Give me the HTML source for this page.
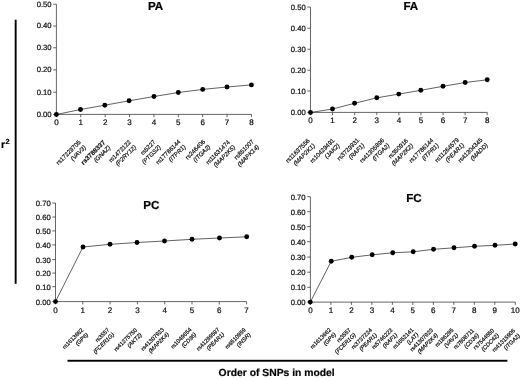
<!DOCTYPE html>
<html><head><meta charset="utf-8"><title>r2 by order of SNPs in model</title>
<style>html,body{margin:0;padding:0;background:#fff;}body{width:520px;height:379px;overflow:hidden;}svg{display:block;filter:grayscale(1);}text{font-family:"Liberation Sans", sans-serif;fill:#111;text-rendering:geometricPrecision;stroke:#111;stroke-width:0.22px;}.yt{font-size:7.7px;text-anchor:end;}.xt{font-size:8.0px;text-anchor:middle;}.lb{font-size:6.25px;text-anchor:end;stroke-width:0.2px;}.ti{font-size:11.6px;font-weight:bold;text-anchor:middle;fill:#000;}.it{font-style:italic;}.b{font-weight:bold;}</style></head><body>
<svg width="520" height="379" viewBox="0 0 520 379">
<rect x="0" y="0" width="520" height="379" fill="#ffffff"/>
<rect x="14.7" y="19.7" width="1.9" height="264.1" fill="#000"/>
<rect x="67.5" y="359.8" width="439.9" height="1.9" fill="#000"/>
<text x="1.0" y="147.9" style="font-size:10.6px;font-weight:bold;fill:#000;">r<tspan dx="0.3" dy="-3.9" style="font-size:7.4px;">2</tspan></text>
<text x="218.6" y="376.2" style="font-size:10.35px;font-weight:bold;fill:#000;">Order of SNPs in model</text>
<g>
<path d="M56.40 4.20 V114.40 H251.44" fill="none" stroke="#333" stroke-width="0.75"/>
<path d="M56.40 114.40h-3.2M56.40 92.20h-3.2M56.40 69.90h-3.2M56.40 47.80h-3.2M56.40 26.00h-3.2M56.40 4.20h-3.2M56.40 114.40v2.8M80.78 114.40v2.8M105.16 114.40v2.8M129.54 114.40v2.8M153.92 114.40v2.8M178.30 114.40v2.8M202.68 114.40v2.8M227.06 114.40v2.8M251.44 114.40v2.8" fill="none" stroke="#333" stroke-width="0.75"/>
<text class="yt" x="51.60" y="116.85">0.00</text>
<text class="yt" x="51.60" y="94.65">0.10</text>
<text class="yt" x="51.60" y="72.35">0.20</text>
<text class="yt" x="51.60" y="50.25">0.30</text>
<text class="yt" x="51.60" y="28.45">0.40</text>
<text class="yt" x="51.60" y="6.65">0.50</text>
<text class="xt" x="56.40" y="125.20">0</text>
<text class="xt" x="80.78" y="125.20">1</text>
<text class="xt" x="105.16" y="125.20">2</text>
<text class="xt" x="129.54" y="125.20">3</text>
<text class="xt" x="153.92" y="125.20">4</text>
<text class="xt" x="178.30" y="125.20">5</text>
<text class="xt" x="202.68" y="125.20">6</text>
<text class="xt" x="227.06" y="125.20">7</text>
<text class="xt" x="251.44" y="125.20">8</text>
<polyline points="56.40,114.50 80.50,109.50 104.80,105.20 129.10,100.80 154.00,96.50 178.30,92.50 202.70,89.40 227.00,87.00 251.40,84.90" fill="none" stroke="#2e2e2e" stroke-width="0.75"/>
<circle cx="56.40" cy="114.50" r="2.45" fill="#000"/>
<circle cx="80.50" cy="109.50" r="2.45" fill="#000"/>
<circle cx="104.80" cy="105.20" r="2.45" fill="#000"/>
<circle cx="129.10" cy="100.80" r="2.45" fill="#000"/>
<circle cx="154.00" cy="96.50" r="2.45" fill="#000"/>
<circle cx="178.30" cy="92.50" r="2.45" fill="#000"/>
<circle cx="202.70" cy="89.40" r="2.45" fill="#000"/>
<circle cx="227.00" cy="87.00" r="2.45" fill="#000"/>
<circle cx="251.40" cy="84.90" r="2.45" fill="#000"/>
<text class="ti" x="155.50" y="10.20">PA</text>
<text class="lb" style="font-size:6.05px" transform="translate(81.20 142.70) rotate(-45)"><tspan x="0" y="0">rs17229705</tspan><tspan class="it" x="0" y="7.3">(VAV3)</tspan></text>
<text class="lb" style="font-size:6.05px" transform="translate(105.70 142.90) rotate(-45)"><tspan x="0" y="0" class="b" style="font-size:6.5px">rs3788337</tspan><tspan class="it" x="0" y="7.3">(GNAZ)</tspan></text>
<text class="lb" style="font-size:6.05px" transform="translate(131.40 142.50) rotate(-45)"><tspan x="0" y="0">rs1472122</tspan><tspan class="it" x="0" y="7.3">(P2RY12)</tspan></text>
<text class="lb" style="font-size:6.05px" transform="translate(156.00 142.40) rotate(-45)"><tspan x="0" y="0">rs5227</tspan><tspan class="it" x="0" y="7.3">(PTGS2)</tspan></text>
<text class="lb" style="font-size:6.05px" transform="translate(180.90 142.10) rotate(-45)"><tspan x="0" y="0">rs17786144</tspan><tspan class="it" x="0" y="7.3">(ITPR1)</tspan></text>
<text class="lb" style="font-size:6.05px" transform="translate(205.60 142.10) rotate(-45)"><tspan x="0" y="0">rs246406</tspan><tspan class="it" x="0" y="7.3">(ITGA2)</tspan></text>
<text class="lb" style="font-size:6.05px" transform="translate(230.50 142.50) rotate(-45)"><tspan x="0" y="0">rs11631474</tspan><tspan class="it" x="0" y="7.3">(MAP2K5)</tspan></text>
<text class="lb" style="font-size:6.05px" transform="translate(254.30 142.10) rotate(-45)"><tspan x="0" y="0">rs851007</tspan><tspan class="it" x="0" y="7.3">(MAPK14)</tspan></text>
</g>
<g>
<path d="M310.50 7.10 V112.40 H487.22" fill="none" stroke="#333" stroke-width="0.75"/>
<path d="M310.50 112.40h-3.2M310.50 91.00h-3.2M310.50 70.20h-3.2M310.50 49.20h-3.2M310.50 28.20h-3.2M310.50 7.10h-3.2M310.50 112.40v2.8M332.59 112.40v2.8M354.68 112.40v2.8M376.77 112.40v2.8M398.86 112.40v2.8M420.95 112.40v2.8M443.04 112.40v2.8M465.13 112.40v2.8M487.22 112.40v2.8" fill="none" stroke="#333" stroke-width="0.75"/>
<text class="yt" x="305.70" y="115.20">0.00</text>
<text class="yt" x="305.70" y="93.80">0.10</text>
<text class="yt" x="305.70" y="73.00">0.20</text>
<text class="yt" x="305.70" y="52.00">0.30</text>
<text class="yt" x="305.70" y="31.00">0.40</text>
<text class="yt" x="305.70" y="9.90">0.50</text>
<text class="xt" x="310.50" y="123.20">0</text>
<text class="xt" x="332.59" y="123.20">1</text>
<text class="xt" x="354.68" y="123.20">2</text>
<text class="xt" x="376.77" y="123.20">3</text>
<text class="xt" x="398.86" y="123.20">4</text>
<text class="xt" x="420.95" y="123.20">5</text>
<text class="xt" x="443.04" y="123.20">6</text>
<text class="xt" x="465.13" y="123.20">7</text>
<text class="xt" x="487.22" y="123.20">8</text>
<polyline points="310.50,112.50 332.50,109.00 354.60,103.30 376.80,97.80 398.80,94.10 420.80,90.30 443.00,86.30 465.20,82.50 487.20,79.80" fill="none" stroke="#2e2e2e" stroke-width="0.75"/>
<circle cx="310.50" cy="112.50" r="2.45" fill="#000"/>
<circle cx="332.50" cy="109.00" r="2.45" fill="#000"/>
<circle cx="354.60" cy="103.30" r="2.45" fill="#000"/>
<circle cx="376.80" cy="97.80" r="2.45" fill="#000"/>
<circle cx="398.80" cy="94.10" r="2.45" fill="#000"/>
<circle cx="420.80" cy="90.30" r="2.45" fill="#000"/>
<circle cx="443.00" cy="86.30" r="2.45" fill="#000"/>
<circle cx="465.20" cy="82.50" r="2.45" fill="#000"/>
<circle cx="487.20" cy="79.80" r="2.45" fill="#000"/>
<text class="ti" x="410.80" y="10.10">FA</text>
<text class="lb" style="font-size:6.05px" transform="translate(310.20 141.00) rotate(-45)"><tspan x="0" y="0">rs11637556</tspan><tspan class="it" x="0" y="7.3">(MAP2K1)</tspan></text>
<text class="lb" style="font-size:6.05px" transform="translate(335.00 140.80) rotate(-45)"><tspan x="0" y="0">rs10429491</tspan><tspan class="it" x="0" y="7.3">(JAK2)</tspan></text>
<text class="lb" style="font-size:6.05px" transform="translate(359.70 140.70) rotate(-45)"><tspan x="0" y="0">rs3729931</tspan><tspan class="it" x="0" y="7.3">(RAF1)</tspan></text>
<text class="lb" style="font-size:6.05px" transform="translate(384.70 140.70) rotate(-45)"><tspan x="0" y="0">rs41305896</tspan><tspan class="it" x="0" y="7.3">(ITGA2)</tspan></text>
<text class="lb" style="font-size:6.05px" transform="translate(408.50 141.00) rotate(-45)"><tspan x="0" y="0">rs350916</tspan><tspan class="it" x="0" y="7.3">(MAP2K2)</tspan></text>
<text class="lb" style="font-size:6.05px" transform="translate(434.00 140.70) rotate(-45)"><tspan x="0" y="0">rs17786144</tspan><tspan class="it" x="0" y="7.3">(ITPR1)</tspan></text>
<text class="lb" style="font-size:6.05px" transform="translate(459.50 140.40) rotate(-45)"><tspan x="0" y="0">rs11264579</tspan><tspan class="it" x="0" y="7.3">(PEAR1)</tspan></text>
<text class="lb" style="font-size:6.05px" transform="translate(483.00 140.40) rotate(-45)"><tspan x="0" y="0">rs41304345</tspan><tspan class="it" x="0" y="7.3">(MADD)</tspan></text>
</g>
<g>
<path d="M55.50 203.00 V301.60 H246.60" fill="none" stroke="#333" stroke-width="0.75"/>
<path d="M55.50 301.60h-3.2M55.50 286.70h-3.2M55.50 273.10h-3.2M55.50 259.60h-3.2M55.50 244.90h-3.2M55.50 230.90h-3.2M55.50 217.00h-3.2M55.50 203.00h-3.2M55.50 301.60v2.8M82.80 301.60v2.8M110.10 301.60v2.8M137.40 301.60v2.8M164.70 301.60v2.8M192.00 301.60v2.8M219.30 301.60v2.8M246.60 301.60v2.8" fill="none" stroke="#333" stroke-width="0.75"/>
<text class="yt" x="50.70" y="304.60">0.00</text>
<text class="yt" x="50.70" y="289.70">0.10</text>
<text class="yt" x="50.70" y="276.10">0.20</text>
<text class="yt" x="50.70" y="262.60">0.30</text>
<text class="yt" x="50.70" y="247.90">0.40</text>
<text class="yt" x="50.70" y="233.90">0.50</text>
<text class="yt" x="50.70" y="220.00">0.60</text>
<text class="yt" x="50.70" y="206.00">0.70</text>
<text class="xt" x="55.50" y="312.70">0</text>
<text class="xt" x="82.80" y="312.70">1</text>
<text class="xt" x="110.10" y="312.70">2</text>
<text class="xt" x="137.40" y="312.70">3</text>
<text class="xt" x="164.70" y="312.70">4</text>
<text class="xt" x="192.00" y="312.70">5</text>
<text class="xt" x="219.30" y="312.70">6</text>
<text class="xt" x="246.60" y="312.70">7</text>
<polyline points="55.50,301.60 83.00,247.00 110.00,244.30 137.00,242.50 164.50,241.00 192.00,239.30 219.50,238.00 246.70,236.80" fill="none" stroke="#2e2e2e" stroke-width="0.75"/>
<circle cx="55.50" cy="301.60" r="2.45" fill="#000"/>
<circle cx="83.00" cy="247.00" r="2.45" fill="#000"/>
<circle cx="110.00" cy="244.30" r="2.45" fill="#000"/>
<circle cx="137.00" cy="242.50" r="2.45" fill="#000"/>
<circle cx="164.50" cy="241.00" r="2.45" fill="#000"/>
<circle cx="192.00" cy="239.30" r="2.45" fill="#000"/>
<circle cx="219.50" cy="238.00" r="2.45" fill="#000"/>
<circle cx="246.70" cy="236.80" r="2.45" fill="#000"/>
<text class="ti" x="151.30" y="209.30">PC</text>
<text class="lb" style="font-size:5.7px" transform="translate(83.70 330.40) rotate(-45)"><tspan x="0" y="0">rs1613662</tspan><tspan class="it" x="0" y="6.8">(GP6)</tspan></text>
<text class="lb" style="font-size:5.7px" transform="translate(109.70 330.20) rotate(-45)"><tspan x="0" y="0">rs3557</tspan><tspan class="it" x="0" y="6.8">(FCER1G)</tspan></text>
<text class="lb" style="font-size:5.7px" transform="translate(137.40 330.40) rotate(-45)"><tspan x="0" y="0">rs41275750</tspan><tspan class="it" x="0" y="6.8">(AKT2)</tspan></text>
<text class="lb" style="font-size:5.7px" transform="translate(164.50 329.90) rotate(-45)"><tspan x="0" y="0">rs41307923</tspan><tspan class="it" x="0" y="6.8">(MAP2K4)</tspan></text>
<text class="lb" style="font-size:5.7px" transform="translate(191.90 330.00) rotate(-45)"><tspan x="0" y="0">rs1049654</tspan><tspan class="it" x="0" y="6.8">(CD36)</tspan></text>
<text class="lb" style="font-size:5.7px" transform="translate(219.90 329.90) rotate(-45)"><tspan x="0" y="0">rs41299597</tspan><tspan class="it" x="0" y="6.8">(PEAR1)</tspan></text>
<text class="lb" style="font-size:5.7px" transform="translate(246.30 330.30) rotate(-45)"><tspan x="0" y="0">rs6510959</tspan><tspan class="it" x="0" y="6.8">(INSR)</tspan></text>
</g>
<g>
<path d="M310.40 196.70 V302.10 H515.30" fill="none" stroke="#333" stroke-width="0.75"/>
<path d="M310.40 302.10h-3.2M310.40 287.30h-3.2M310.40 272.20h-3.2M310.40 257.10h-3.2M310.40 241.70h-3.2M310.40 226.60h-3.2M310.40 211.70h-3.2M310.40 196.70h-3.2M310.40 302.10v2.8M330.89 302.10v2.8M351.38 302.10v2.8M371.87 302.10v2.8M392.36 302.10v2.8M412.85 302.10v2.8M433.34 302.10v2.8M453.83 302.10v2.8M474.32 302.10v2.8M494.81 302.10v2.8M515.30 302.10v2.8" fill="none" stroke="#333" stroke-width="0.75"/>
<text class="yt" x="305.60" y="305.20">0.00</text>
<text class="yt" x="305.60" y="290.40">0.10</text>
<text class="yt" x="305.60" y="275.30">0.20</text>
<text class="yt" x="305.60" y="260.20">0.30</text>
<text class="yt" x="305.60" y="244.80">0.40</text>
<text class="yt" x="305.60" y="229.70">0.50</text>
<text class="yt" x="305.60" y="214.80">0.60</text>
<text class="yt" x="305.60" y="199.80">0.70</text>
<text class="xt" x="310.40" y="313.00">0</text>
<text class="xt" x="330.89" y="313.00">1</text>
<text class="xt" x="351.38" y="313.00">2</text>
<text class="xt" x="371.87" y="313.00">3</text>
<text class="xt" x="392.36" y="313.00">4</text>
<text class="xt" x="412.85" y="313.00">5</text>
<text class="xt" x="433.34" y="313.00">6</text>
<text class="xt" x="453.83" y="313.00">7</text>
<text class="xt" x="474.32" y="313.00">8</text>
<text class="xt" x="494.81" y="313.00">9</text>
<text class="xt" x="515.30" y="313.00">10</text>
<polyline points="310.30,302.10 331.20,261.30 351.70,257.30 372.20,254.80 392.70,252.80 413.20,251.80 433.50,249.30 454.00,247.80 474.50,246.30 495.00,245.30 515.20,244.00" fill="none" stroke="#2e2e2e" stroke-width="0.75"/>
<circle cx="310.30" cy="302.10" r="2.45" fill="#000"/>
<circle cx="331.20" cy="261.30" r="2.45" fill="#000"/>
<circle cx="351.70" cy="257.30" r="2.45" fill="#000"/>
<circle cx="372.20" cy="254.80" r="2.45" fill="#000"/>
<circle cx="392.70" cy="252.80" r="2.45" fill="#000"/>
<circle cx="413.20" cy="251.80" r="2.45" fill="#000"/>
<circle cx="433.50" cy="249.30" r="2.45" fill="#000"/>
<circle cx="454.00" cy="247.80" r="2.45" fill="#000"/>
<circle cx="474.50" cy="246.30" r="2.45" fill="#000"/>
<circle cx="495.00" cy="245.30" r="2.45" fill="#000"/>
<circle cx="515.20" cy="244.00" r="2.45" fill="#000"/>
<text class="ti" x="414.00" y="202.40">FC</text>
<text class="lb" style="font-size:5.7px" transform="translate(331.50 330.20) rotate(-45)"><tspan x="0" y="0">rs1613662</tspan><tspan class="it" x="0" y="6.8">(GP6)</tspan></text>
<text class="lb" style="font-size:5.7px" transform="translate(351.30 330.40) rotate(-45)"><tspan x="0" y="0">rs3557</tspan><tspan class="it" x="0" y="6.8">(FCER1G)</tspan></text>
<text class="lb" style="font-size:5.7px" transform="translate(372.50 330.50) rotate(-45)"><tspan x="0" y="0">rs3737224</tspan><tspan class="it" x="0" y="6.8">(PEAR1)</tspan></text>
<text class="lb" style="font-size:5.7px" transform="translate(393.00 330.60) rotate(-45)"><tspan x="0" y="0">rs5746223</tspan><tspan class="it" x="0" y="6.8">(RAF1)</tspan></text>
<text class="lb" style="font-size:5.7px" transform="translate(414.00 330.20) rotate(-45)"><tspan x="0" y="0">rs1652141</tspan><tspan class="it" x="0" y="6.8">(LAT)</tspan></text>
<text class="lb" style="font-size:5.7px" transform="translate(433.40 330.60) rotate(-45)"><tspan x="0" y="0">rs41307923</tspan><tspan class="it" x="0" y="6.8">(MAP2K4)</tspan></text>
<text class="lb" style="font-size:5.7px" transform="translate(453.90 330.60) rotate(-45)"><tspan x="0" y="0">rs186295</tspan><tspan class="it" x="0" y="6.8">(VAV1)</tspan></text>
<text class="lb" style="font-size:5.7px" transform="translate(474.50 330.90) rotate(-45)"><tspan x="0" y="0">rs7808711</tspan><tspan class="it" x="0" y="6.8">(CD36)</tspan></text>
<text class="lb" style="font-size:5.7px" transform="translate(494.60 330.90) rotate(-45)"><tspan x="0" y="0">rs7544550</tspan><tspan class="it" x="0" y="6.8">(CDC42)</tspan></text>
<text class="lb" style="font-size:5.7px" transform="translate(515.60 331.10) rotate(-45)"><tspan x="0" y="0">rs41315906</tspan><tspan class="it" x="0" y="6.8">(ITGA2)</tspan></text>
</g>
</svg></body></html>
